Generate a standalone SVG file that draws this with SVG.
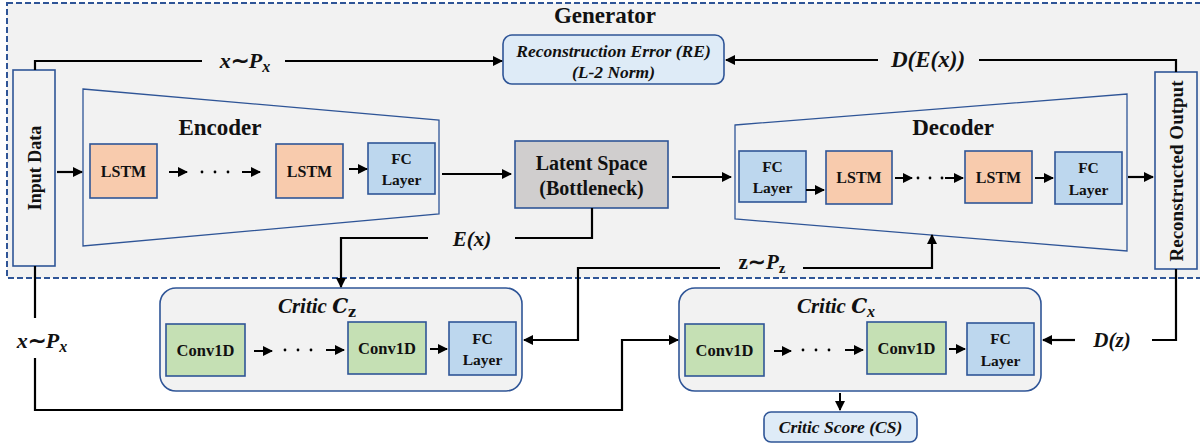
<svg xmlns="http://www.w3.org/2000/svg" width="1200" height="447" viewBox="0 0 1200 447">
  <defs>
    <marker id="arr" viewBox="0 0 10 10" refX="9" refY="5" markerWidth="10" markerHeight="10" markerUnits="userSpaceOnUse" orient="auto">
      <path d="M0,0 L10,5 L0,10 z" fill="#000"/>
    </marker>
    <style>
      text { font-family: "Liberation Serif", "Times New Roman", serif; fill: #111; }
      .b { font-weight: bold; }
      .bi { font-weight: bold; font-style: italic; }
      .box { stroke: #2f5597; stroke-width: 1.6; }
      .lstm { fill: #f8cbad; }
      .fc { fill: #bdd7ee; }
      .conv { fill: #c5e0b4; }
      .trap { fill: none; stroke: #2f5597; stroke-width: 1.3; }
      .crit { fill: #f2f2f2; stroke: #2f5597; stroke-width: 1.6; }
      .note { fill: #deebf7; stroke: #2f5597; stroke-width: 1.6; }
      .ln { fill: none; stroke: #000; stroke-width: 2.2; }
      .sm { fill: none; stroke: #000; stroke-width: 2; }
      .dot { fill: #000; }
      .mc { font-family: "DejaVu Serif", "Liberation Serif", serif; }
    </style>
  </defs>

  <rect width="1200" height="447" fill="#fff"/>

  <!-- Generator frame -->
  <g id="generator">
    <rect x="7" y="3" width="1198" height="275" fill="#f2f2f2" stroke="#2f5597" stroke-width="2" stroke-dasharray="6,3"/>
    <text x="605" y="23" text-anchor="middle" class="b" font-size="23">Generator</text>
  </g>

  <!-- Encoder -->
  <g id="encoder">
    <polygon class="trap" points="83,89 439,120 439,214 83,246"/>
    <text x="220" y="135" text-anchor="middle" class="b" font-size="23">Encoder</text>
  </g>
  <g id="enc-lstm1">
    <rect class="box lstm" x="90" y="144" width="67" height="54"/>
    <text x="123.5" y="177" text-anchor="middle" class="b" font-size="16">LSTM</text>
  </g>
  <g id="enc-lstm2">
    <rect class="box lstm" x="276" y="144" width="67" height="54"/>
    <text x="309.5" y="177" text-anchor="middle" class="b" font-size="16">LSTM</text>
  </g>
  <g id="enc-fc">
    <rect class="box fc" x="368" y="143" width="67" height="51"/>
    <text x="401.5" y="164" text-anchor="middle" class="b" font-size="15.5">FC</text>
    <text x="401.5" y="185" text-anchor="middle" class="b" font-size="15.5">Layer</text>
  </g>

  <!-- Latent space -->
  <g id="latent">
    <rect class="box" fill="#d0cece" x="515" y="141" width="153" height="67"/>
    <text x="591.5" y="170" text-anchor="middle" class="b" font-size="20">Latent Space</text>
    <text x="591.5" y="195" text-anchor="middle" class="b" font-size="20">(Bottleneck)</text>
  </g>

  <!-- Decoder -->
  <g id="decoder">
    <polygon class="trap" points="735,125 1127,94 1127,251 735,219"/>
    <text x="953" y="135" text-anchor="middle" class="b" font-size="23">Decoder</text>
  </g>
  <g id="dec-fc1">
    <rect class="box fc" x="739" y="151" width="67" height="51"/>
    <text x="772.5" y="172" text-anchor="middle" class="b" font-size="15.5">FC</text>
    <text x="772.5" y="193" text-anchor="middle" class="b" font-size="15.5">Layer</text>
  </g>
  <g id="dec-lstm1">
    <rect class="box lstm" x="826" y="151" width="66" height="53"/>
    <text x="859" y="183" text-anchor="middle" class="b" font-size="16">LSTM</text>
  </g>
  <g id="dec-lstm2">
    <rect class="box lstm" x="965" y="151" width="67" height="52"/>
    <text x="998.5" y="183" text-anchor="middle" class="b" font-size="16">LSTM</text>
  </g>
  <g id="dec-fc2">
    <rect class="box fc" x="1055" y="152" width="67" height="52"/>
    <text x="1088.5" y="173" text-anchor="middle" class="b" font-size="15.5">FC</text>
    <text x="1088.5" y="195" text-anchor="middle" class="b" font-size="15.5">Layer</text>
  </g>

  <!-- Input / output bars -->
  <g id="input-data">
    <rect class="box" fill="#f2f2f2" x="13" y="70" width="42" height="196"/>
    <text transform="translate(41,168) rotate(-90)" text-anchor="middle" class="b" font-size="18">Input Data</text>
  </g>
  <g id="reconstructed-output">
    <rect class="box" fill="#f2f2f2" x="1155" y="72" width="42" height="197"/>
    <text transform="translate(1183,171) rotate(-90)" text-anchor="middle" class="b" font-size="19">Reconstructed Output</text>
  </g>

  <!-- Reconstruction error -->
  <g id="recon-error">
    <rect class="note" x="503" y="35" width="221" height="49" rx="9"/>
    <text x="613.5" y="57" text-anchor="middle" class="bi" font-size="17.5">Reconstruction Error (RE)</text>
    <text x="613.5" y="78" text-anchor="middle" class="bi" font-size="17.5">(L-2 Norm)</text>
  </g>

  <!-- Critic Cz -->
  <g id="critic-z">
    <rect class="crit" x="160" y="288" width="362" height="103" rx="16"/>
    <text x="317" y="313" text-anchor="middle" font-size="21"><tspan class="bi">Critic </tspan><tspan class="bi mc" font-size="20">C</tspan><tspan class="b mc" font-size="14" dy="4">z</tspan></text>
  </g>
  <g id="cz-conv1">
    <rect class="box conv" x="166" y="324" width="79" height="52"/>
    <text x="205.5" y="356" text-anchor="middle" class="b" font-size="16.5">Conv1D</text>
  </g>
  <g id="cz-conv2">
    <rect class="box conv" x="348" y="322" width="78" height="52"/>
    <text x="387" y="354" text-anchor="middle" class="b" font-size="16.5">Conv1D</text>
  </g>
  <g id="cz-fc">
    <rect class="box fc" x="449" y="322" width="67" height="53"/>
    <text x="482.5" y="344" text-anchor="middle" class="b" font-size="15.5">FC</text>
    <text x="482.5" y="365" text-anchor="middle" class="b" font-size="15.5">Layer</text>
  </g>

  <!-- Critic Cx -->
  <g id="critic-x">
    <rect class="crit" x="679" y="288" width="362" height="103" rx="16"/>
    <text x="836" y="313" text-anchor="middle" font-size="21"><tspan class="bi">Critic </tspan><tspan class="bi mc" font-size="20">C</tspan><tspan class="bi" font-size="16" dy="4">x</tspan></text>
  </g>
  <g id="cx-conv1">
    <rect class="box conv" x="685" y="324" width="79" height="52"/>
    <text x="724.5" y="356" text-anchor="middle" class="b" font-size="16.5">Conv1D</text>
  </g>
  <g id="cx-conv2">
    <rect class="box conv" x="867" y="322" width="79" height="52"/>
    <text x="906.5" y="354" text-anchor="middle" class="b" font-size="16.5">Conv1D</text>
  </g>
  <g id="cx-fc">
    <rect class="box fc" x="967" y="323" width="67" height="52"/>
    <text x="1000.5" y="344" text-anchor="middle" class="b" font-size="15.5">FC</text>
    <text x="1000.5" y="366" text-anchor="middle" class="b" font-size="15.5">Layer</text>
  </g>

  <!-- Critic score -->
  <g id="critic-score">
    <rect class="note" x="764" y="412" width="153" height="30" rx="7"/>
    <text x="840.5" y="433" text-anchor="middle" class="bi" font-size="17.5">Critic Score (CS)</text>
  </g>

  <!-- Connectors -->
  <g id="connectors">
    <!-- encoder chain -->
    <line class="ln" x1="57" y1="172" x2="82" y2="172" marker-end="url(#arr)"/>
    <line class="sm" x1="169" y1="172" x2="187" y2="172" marker-end="url(#arr)"/>
    <circle class="dot" cx="202" cy="172" r="1.4"/>
    <circle class="dot" cx="215" cy="172" r="1.4"/>
    <circle class="dot" cx="228" cy="172" r="1.4"/>
    <line class="sm" x1="242" y1="172" x2="260" y2="172" marker-end="url(#arr)"/>
    <line class="sm" x1="349" y1="169" x2="367" y2="169" marker-end="url(#arr)"/>
    <line class="ln" x1="442" y1="174" x2="511" y2="174" marker-end="url(#arr)"/>
    <line class="ln" x1="672" y1="177" x2="731" y2="177" marker-end="url(#arr)"/>

    <!-- decoder chain -->
    <line class="sm" x1="806" y1="190" x2="824" y2="190" marker-end="url(#arr)"/>
    <line class="sm" x1="895" y1="178" x2="912" y2="178" marker-end="url(#arr)"/>
    <circle class="dot" cx="918" cy="178" r="1.4"/>
    <circle class="dot" cx="930" cy="178" r="1.4"/>
    <circle class="dot" cx="942" cy="178" r="1.4"/>
    <line class="sm" x1="945" y1="178" x2="963" y2="178" marker-end="url(#arr)"/>
    <line class="sm" x1="1035" y1="178" x2="1053" y2="178" marker-end="url(#arr)"/>
    <line class="ln" x1="1128" y1="177" x2="1153" y2="177" marker-end="url(#arr)"/>

    <!-- x~Px to reconstruction error -->
    <polyline class="ln" points="35,70 35,61 202,61"/>
    <line class="ln" x1="285" y1="61" x2="502" y2="61" marker-end="url(#arr)"/>
    <text x="245" y="68" text-anchor="middle" font-size="22"><tspan class="bi">x</tspan><tspan class="b">∼</tspan><tspan class="bi">P</tspan><tspan class="bi" font-size="16" dy="4">x</tspan></text>

    <!-- D(E(x)) back to reconstruction error -->
    <polyline class="ln" points="1176,72 1176,60 979,60"/>
    <line class="ln" x1="878" y1="60" x2="726" y2="60" marker-end="url(#arr)"/>
    <text x="928" y="67" text-anchor="middle" class="bi" font-size="23">D(E(x))</text>

    <!-- E(x) to critic Cz -->
    <polyline class="ln" points="592,208 592,238 515,238"/>
    <polyline class="ln" points="428,238 341,238 341,287" marker-end="url(#arr)"/>
    <text x="472" y="246" text-anchor="middle" class="bi" font-size="21">E(x)</text>

    <!-- z~Pz to decoder and critic Cz -->
    <polyline class="ln" points="720,268 578,268 578,340 524,340" marker-end="url(#arr)"/>
    <polyline class="ln" points="803,268 932,268 932,235" marker-end="url(#arr)"/>
    <text x="762" y="269" text-anchor="middle" font-size="21"><tspan class="b">z∼</tspan><tspan class="bi">P</tspan><tspan class="b" font-size="15" dy="4">z</tspan></text>

    <!-- x~Px to critic Cx -->
    <line class="ln" x1="35" y1="266" x2="35" y2="318"/>
    <polyline class="ln" points="35,358 35,410 622,410 622,340 678,340" marker-end="url(#arr)"/>
    <text x="42" y="348" text-anchor="middle" font-size="22"><tspan class="bi">x</tspan><tspan class="b">∼</tspan><tspan class="bi">P</tspan><tspan class="bi" font-size="16" dy="4">x</tspan></text>

    <!-- D(z) to critic Cx -->
    <polyline class="ln" points="1176,269 1176,340 1152,340"/>
    <line class="ln" x1="1075" y1="340" x2="1043" y2="340" marker-end="url(#arr)"/>
    <text x="1112" y="347" text-anchor="middle" class="bi" font-size="21">D(z)</text>

    <!-- critic Cz chain -->
    <line class="sm" x1="254" y1="351" x2="272" y2="351" marker-end="url(#arr)"/>
    <circle class="dot" cx="285" cy="350" r="1.4"/>
    <circle class="dot" cx="298" cy="350" r="1.4"/>
    <circle class="dot" cx="311" cy="350" r="1.4"/>
    <line class="sm" x1="326" y1="350" x2="344" y2="350" marker-end="url(#arr)"/>
    <line class="sm" x1="430" y1="349" x2="447" y2="349" marker-end="url(#arr)"/>

    <!-- critic Cx chain -->
    <line class="sm" x1="774" y1="351" x2="791" y2="351" marker-end="url(#arr)"/>
    <circle class="dot" cx="803" cy="350" r="1.4"/>
    <circle class="dot" cx="816" cy="350" r="1.4"/>
    <circle class="dot" cx="829" cy="350" r="1.4"/>
    <line class="sm" x1="845" y1="350" x2="863" y2="350" marker-end="url(#arr)"/>
    <line class="sm" x1="949" y1="349" x2="965" y2="349" marker-end="url(#arr)"/>

    <!-- critic score -->
    <line class="sm" x1="840" y1="393" x2="840" y2="410" marker-end="url(#arr)"/>
  </g>
</svg>
